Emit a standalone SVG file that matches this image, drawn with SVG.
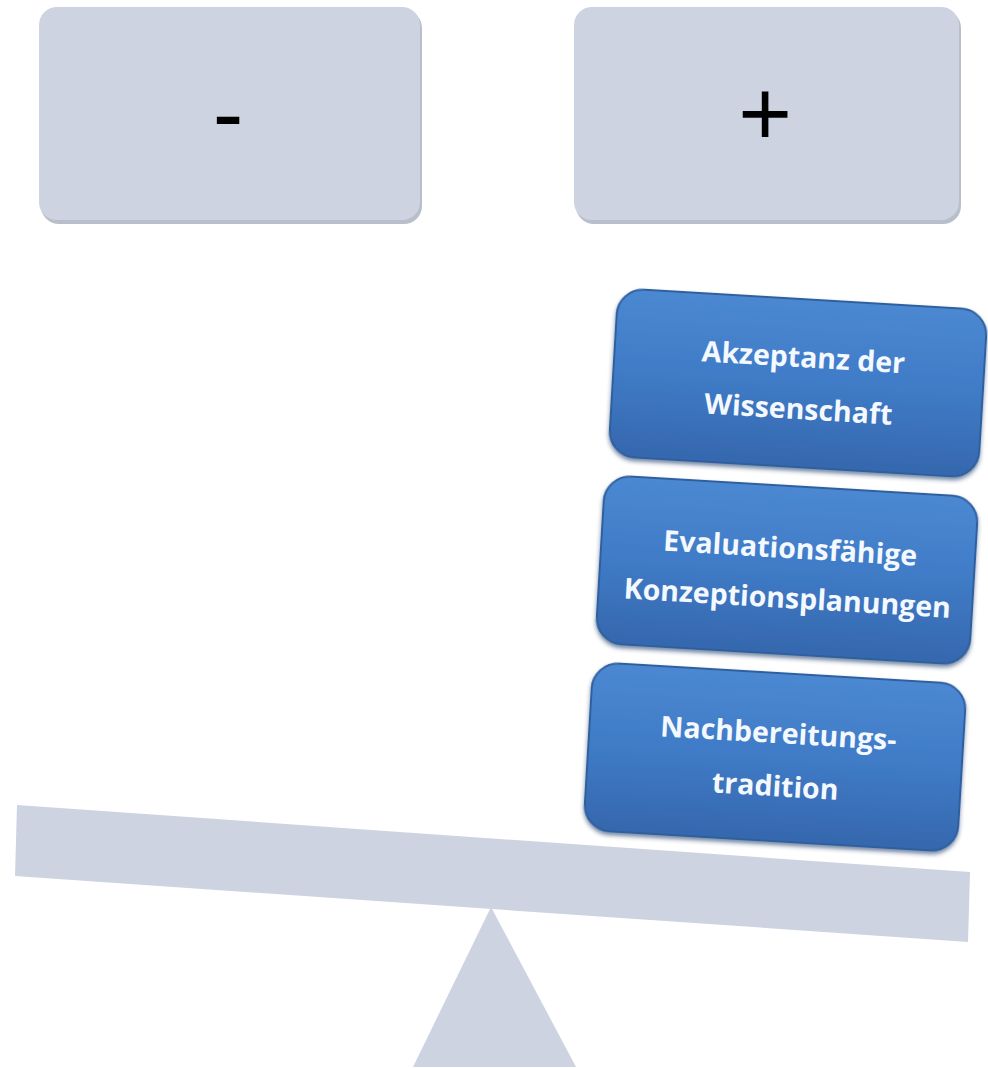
<svg xmlns="http://www.w3.org/2000/svg" width="988" height="1068" viewBox="0 0 988 1068">
<style>
.grey{fill:#cdd3e0}
.sign{font-family:"Liberation Sans",Arial,sans-serif;font-size:92px;fill:#000;text-anchor:middle}
.lbl{font-family:"Open Sans","Liberation Sans",sans-serif;font-weight:bold;font-size:28.5px;fill:#f4f8ff;text-anchor:middle}
.blue{fill:url(#bg);stroke:#2f5f9e;stroke-width:2}
</style>
<defs>
<linearGradient id="bg" x1="0" y1="0" x2="0" y2="1">
<stop offset="0" stop-color="#4c88d2"/>
<stop offset="0.5" stop-color="#3f7bc6"/>
<stop offset="1" stop-color="#3567ad"/>
</linearGradient>
<filter id="sh" x="-10%" y="-10%" width="120%" height="130%">
<feDropShadow dx="0" dy="3" stdDeviation="2" flood-color="#1e3d6a" flood-opacity="0.6"/>
</filter>
</defs>
<g id="minus">
<rect x="41" y="10" width="381" height="214" rx="18" fill="#b9bfca"/>
<rect class="grey" x="39" y="7" width="381" height="213" rx="18"/>
<text class="sign" x="228" y="145">-</text>
</g>
<g id="plus">
<rect x="576" y="10" width="385" height="214" rx="18" fill="#b9bfca"/>
<rect class="grey" x="574" y="7" width="385" height="213" rx="18"/>
<text class="sign" x="765" y="145">+</text>
</g>
<g id="beam">
<polygon class="grey" points="17,805 970,872 968,942 15,876"/>
</g>
<g id="fulcrum">
<polygon class="grey" points="491,907 576,1067 413,1067"/>
</g>
<g id="box1" transform="translate(798,383) rotate(3.4)">
<rect class="blue" x="-185" y="-84" width="370" height="168" rx="26" filter="url(#sh)"/>
<text class="lbl" x="4" y="-16">Akzeptanz der</text>
<text class="lbl" x="2" y="36">Wissenschaft</text>
</g>
<g id="box2" transform="translate(787,570) rotate(3.4)">
<rect class="blue" x="-187" y="-84" width="374" height="168" rx="26" filter="url(#sh)"/>
<text class="lbl" x="2" y="-12">Evaluationsfähige</text>
<text class="lbl" x="2" y="38">Konzeptionsplanungen</text>
</g>
<g id="box3" transform="translate(775,757) rotate(3.4)">
<rect class="blue" x="-187" y="-84" width="374" height="168" rx="26" filter="url(#sh)"/>
<text class="lbl" x="2" y="-14">Nachbereitungs-</text>
<text class="lbl" x="2" y="39">tradition</text>
</g>
</svg>
